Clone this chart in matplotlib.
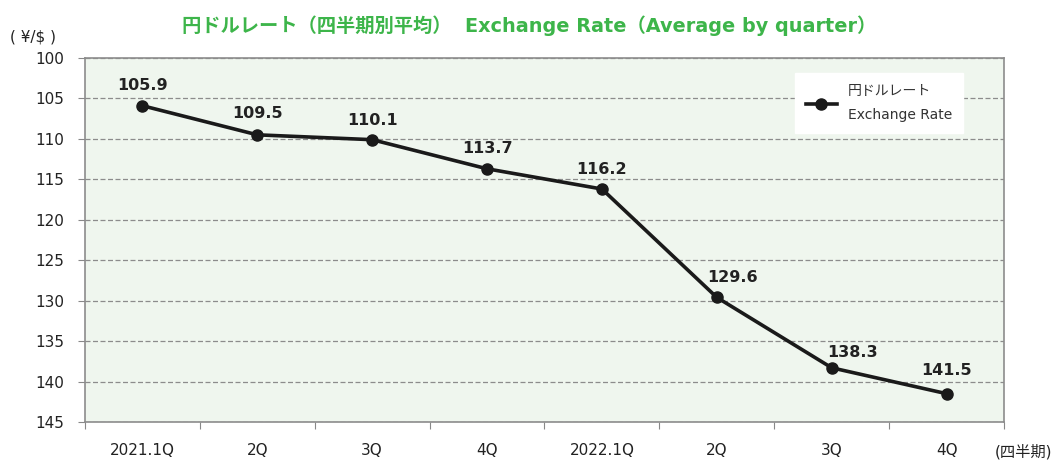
import numpy as np
import matplotlib.pyplot as plt

plt.rcParams['font.family'] = ['DejaVu Sans', 'Noto Sans CJK JP']

quarters = ["2021.1Q", "2Q", "3Q", "4Q", "2022.1Q", "2Q", "3Q", "4Q"]
rates = [105.9, 109.5, 110.1, 113.7, 116.2, 129.6, 138.3, 141.5]
y_ticks = [100, 105, 110, 115, 120, 125, 130, 135, 140, 145]

# label nudges in pixels (dx, dy above the marker)
label_shift = [(0, 20), (0, 21), (0, 19), (0, 20), (0, 20), (16, 20), (21, 15), (0, 23)]

GREEN = "#3db54a"
BG = "#eff6ee"

fig = plt.figure(figsize=(10.58, 4.62), dpi=100)
ax = fig.add_axes([0.0803, 0.0866, 0.8687, 0.7879])
ax.set_facecolor(BG)

x = np.arange(len(quarters))
ax.plot(x, rates, color="#1a1a1a", lw=2.6, marker="o", ms=8,
        label="円ドルレート\nExchange Rate", zorder=3)

for xi, v, (dx, dy) in zip(x, rates, label_shift):
    ax.annotate(f"{v:.1f}", (xi, v), xytext=(dx * 0.72, dy * 0.72), textcoords="offset points",
                ha="center", va="center", fontsize=11.5, fontweight="bold",
                color="#222222")

ax.set_xlim(-0.5, len(quarters) - 0.5)
ax.set_ylim(145, 100)
ax.set_yticks(y_ticks)
ax.set_yticklabels([str(t) for t in y_ticks], fontsize=11, color="#222222")
ax.grid(axis="y", ls=(0, (4, 2)), color="#8c8c8c", lw=0.9)
ax.set_axisbelow(True)

# ticks at category boundaries, labels in the middle
ax.set_xticks(np.arange(-0.5, len(quarters)), minor=False)
ax.set_xticklabels([])
ax.set_xticks(x, minor=True)
ax.set_xticklabels(quarters, minor=True, fontsize=11, color="#222222")
ax.tick_params(axis="x", which="minor", length=0, pad=15)
ax.tick_params(axis="x", which="major", length=5, color="#888888")
ax.tick_params(axis="y", length=5, color="#888888", pad=10)

for s in ax.spines.values():
    s.set_color("#8c8c8c")
    s.set_linewidth(1.2)

fig.text(0.031, 0.92, "( ¥/$ )", fontsize=11, ha="center", va="center", color="#222222")
fig.text(0.967, 0.022, "(四半期)", fontsize=11, ha="center", va="center", color="#222222")
fig.text(0.5, 0.945, "円ドルレート（四半期別平均）  Exchange Rate（Average by quarter）",
         fontsize=13.9, fontweight="bold", color=GREEN, ha="center", va="center")

leg = ax.legend(loc="upper right", bbox_to_anchor=(0.963, 0.977), frameon=True,
                fancybox=False, edgecolor="white", framealpha=1,
                handlelength=2.2, borderpad=0.8, prop={"size": 10})
for t in leg.get_texts():
    t.set_color("#333333")
    t.set_linespacing(1.9)

fig.savefig("out.png", dpi=100)
